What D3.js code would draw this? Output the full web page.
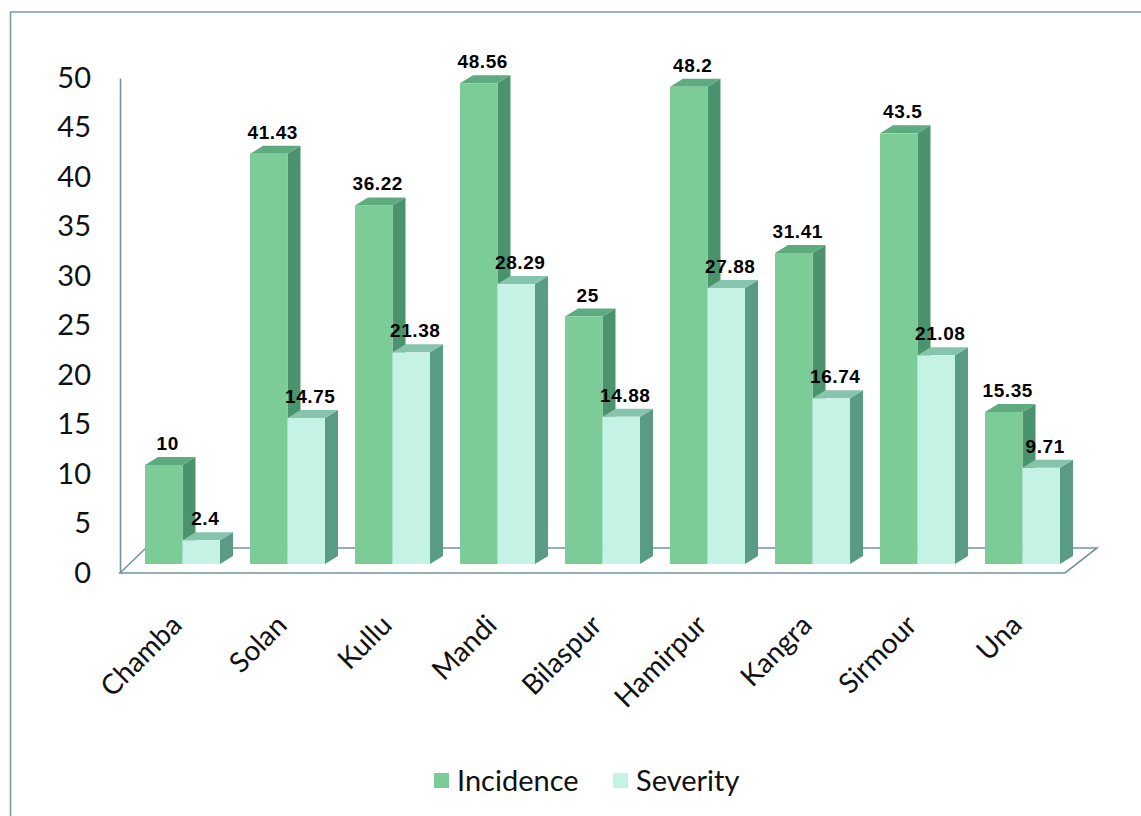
<!DOCTYPE html>
<html>
<head>
<meta charset="utf-8">
<script src="https://cdn.jsdelivr.net/npm/d3@7"></script>
<style>
  html, body { margin: 0; padding: 0; background: #ffffff; }
  svg { display: block; }
</style>
</head>
<body>
<svg id="chart" width="1141" height="816"></svg>
<script>
// Districts and the two measured series
const categories = ["Chamba", "Solan", "Kullu", "Mandi", "Bilaspur", "Hamirpur", "Kangra", "Sirmour", "Una"];
const seriesNames = ["Incidence", "Severity"];
const incidence = [10, 41.43, 36.22, 48.56, 25, 48.2, 31.41, 43.5, 15.35];
const severity = [2.4, 14.75, 21.38, 28.29, 14.88, 27.88, 16.74, 21.08, 9.71];
const yTicks = [0, 5, 10, 15, 20, 25, 30, 35, 40, 45, 50];

const svg = d3.select("#chart");
const W = 1141, H = 816;

// colours for the front / side / top faces of each column
const palette = {
  Incidence: { front: "#7bcc97", side: "#4a936c", top: "#5fab80" },
  Severity:  { front: "#c4f3e6", side: "#5a9b86", top: "#86c4ac" }
};
const lineColor = "#6f95a0";

// outer frame
svg.append("path")
  .attr("d", `M${W + 5},12 H10.5 V${H + 5}`)
  .attr("fill", "none")
  .attr("stroke", "#7a9fa2")
  .attr("stroke-width", 1.6);

// scales
const y = d3.scaleLinear().domain([0, 50]).range([573, 78]);
const x = d3.scaleBand().domain(categories).range([145, 1060]).paddingInner(30 / 105).paddingOuter(0);
const xs = d3.scaleBand().domain(seriesNames).range([0, x.bandwidth()]);

// depth of the plot floor and of each column
const floorDX = 31, floorDY = -25;
const barShiftX = 0, barShiftY = -9;     // columns sit a little behind the front edge
const depthX = 13, depthY = -8;          // column top/side extrusion

// floor
const fx0 = 120, fx1 = 1065, fy = y(0);
svg.append("path")
  .attr("d", `M${fx0},${fy} L${fx0 + floorDX - 5},${fy + floorDY} L${fx1 + floorDX + 1},${fy + floorDY} L${fx1},${fy} Z`)
  .attr("fill", "#ffffff")
  .attr("stroke", lineColor)
  .attr("stroke-width", 1.6)
  .attr("stroke-linejoin", "miter");

// value axis
const yAxis = d3.axisLeft(y).tickValues(yTicks).tickSize(0).tickPadding(29).tickFormat(d3.format("d"));
const gy = svg.append("g").attr("transform", `translate(${fx0},0)`).call(yAxis);
gy.select(".domain").attr("stroke", lineColor).attr("stroke-width", 1.6);
gy.selectAll("text")
  .attr("font-family", "Lato, 'Open Sans', sans-serif")
  .attr("font-size", 29)
  .attr("fill", "#111");

// columns
const rows = categories.map((c, i) => ({ cat: c, values: [
  { key: "Incidence", value: incidence[i] },
  { key: "Severity", value: severity[i] }
]}));

const groups = svg.append("g").selectAll("g.cat")
  .data(rows)
  .join("g")
  .attr("class", "cat")
  .attr("transform", d => `translate(${x(d.cat) + barShiftX},${barShiftY})`);

const bars = groups.selectAll("g.bar")
  .data(d => d.values)
  .join("g")
  .attr("class", "bar");

bars.each(function(d) {
  const g = d3.select(this);
  const x0 = xs(d.key), w = xs.bandwidth();
  const yt = y(d.value), yb = y(0);
  const col = palette[d.key];
  // side face
  g.append("path")
    .attr("d", `M${x0 + w},${yt} L${x0 + w + depthX},${yt + depthY} L${x0 + w + depthX},${yb + depthY} L${x0 + w},${yb} Z`)
    .attr("fill", col.side);
  // top face
  g.append("path")
    .attr("d", `M${x0},${yt} L${x0 + depthX},${yt + depthY} L${x0 + w + depthX},${yt + depthY} L${x0 + w},${yt} Z`)
    .attr("fill", col.top);
  // front face
  g.append("rect")
    .attr("x", x0).attr("y", yt)
    .attr("width", w).attr("height", yb - yt)
    .attr("fill", col.front);
});

// value labels
bars.append("text")
  .attr("x", d => xs(d.key) + xs.bandwidth() / 2 + 4)
  .attr("y", d => y(d.value) - 15)
  .attr("text-anchor", "middle")
  .attr("font-family", "'Liberation Sans', Arial, sans-serif")
  .attr("font-weight", "bold")
  .attr("font-size", 19)
  .attr("letter-spacing", 0.6)
  .attr("fill", "#000")
  .text(d => d.value);

// category labels
svg.append("g").selectAll("text")
  .data(categories)
  .join("text")
  .attr("transform", d => `translate(${x(d) + x.bandwidth() / 2 + 1},${627}) rotate(-45)`)
  .attr("text-anchor", "end")
  .attr("font-family", "Lato, 'Open Sans', sans-serif")
  .attr("font-size", 28)
  .attr("fill", "#111")
  .text(d => d);

// legend
const legend = svg.append("g").attr("transform", "translate(434,781)");
const legendItems = [
  { key: "Incidence", x: 0 },
  { key: "Severity", x: 179 }
];
legendItems.forEach(it => {
  legend.append("rect")
    .attr("x", it.x).attr("y", -8)
    .attr("width", 15).attr("height", 15)
    .attr("fill", palette[it.key].front);
  legend.append("text")
    .attr("x", it.x + 23).attr("y", 10)
    .attr("font-family", "Lato, 'Open Sans', sans-serif")
    .attr("font-size", 29)
    .attr("fill", "#111")
    .text(it.key);
});
</script>
</body>
</html>
